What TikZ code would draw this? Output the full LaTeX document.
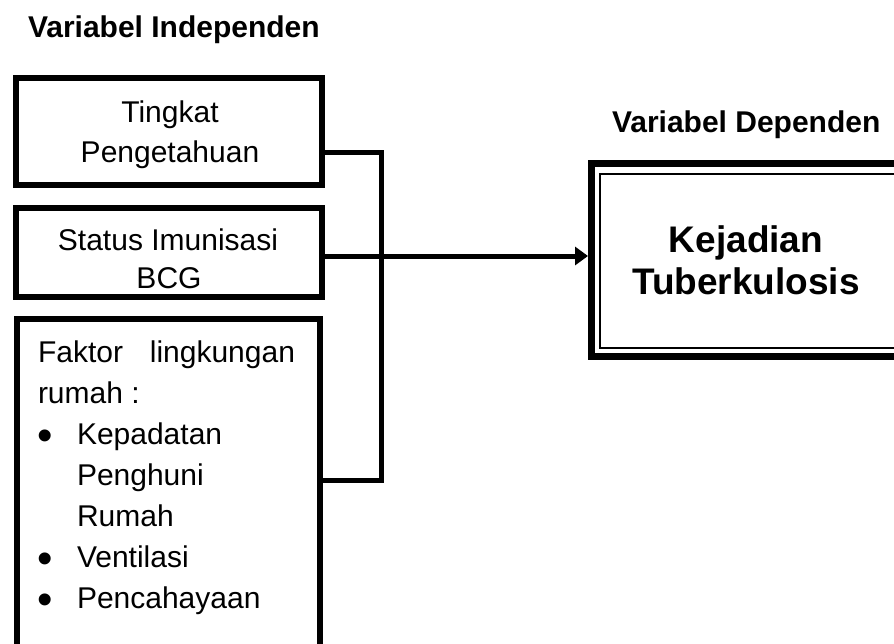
\documentclass[tikz,border=0pt]{standalone}
\usepackage{fontspec}
\setmainfont{Liberation Sans}
\usetikzlibrary{arrows.meta}
\begin{document}
\begin{tikzpicture}[x=1pt,y=-1pt,
  boxstyle/.style={draw, rectangle, line width=6pt, inner sep=0pt, outer sep=0pt},
  txt/.style={font=\fontsize{30}{40}\selectfont, inner sep=0pt, outer sep=0pt, anchor=base},
  bul/.style={font=\fontsize{44}{44}\selectfont, inner sep=0pt, outer sep=0pt},
  ttl/.style={font=\fontsize{30}{36}\selectfont\bfseries, inner sep=0pt, outer sep=0pt, anchor=base west},
  big/.style={font=\fontsize{37}{44}\selectfont\bfseries, inner sep=0pt, outer sep=0pt, anchor=base},
  conn/.style={line width=5pt}
]
\useasboundingbox (0,0) rectangle (894,643);
\clip (0,0) rectangle (894,643);

% titles
\node[ttl] (ti) at (28,37) {Variabel Independen};
\node[ttl] (td) at (612,132) {Variabel Dependen};

% boxes
\node[boxstyle, minimum width=306pt, minimum height=107pt] (b1) at (169,131.5) {};
\node[boxstyle, minimum width=306pt, minimum height=89pt] (b2) at (169,252.5) {};
\node[boxstyle, minimum width=303pt, minimum height=351.5pt] (b3) at (168,494.25) {};
\node[draw, rectangle, line width=7pt, minimum width=330pt, minimum height=193pt, inner sep=0pt, outer sep=0pt] (dep) at (756.5,260) {};
\draw[line width=2pt] ([shift={(8,10)}]dep.north west) rectangle ([shift={(-8,-8.5)}]dep.south east);

% box texts
\node[txt] (l1a) at (170,122) {Tingkat};
\node[txt] (l1b) at (170,162) {Pengetahuan};
\node[txt] (l2a) at (168,250) {Status Imunisasi};
\node[txt] (l2b) at (169,288) {BCG};

\node[txt, anchor=base west] (l3a) at (38,362) {\makebox[257pt][s]{Faktor lingkungan}};
\node[txt, anchor=base west] (l3b) at (38,403) {rumah :};
\node[bul] (bu1) at (45,440) {\textbullet};
\node[txt, anchor=base west] (l3c) at (77,444) {Kepadatan};
\node[txt, anchor=base west] (l3d) at (77,485) {Penghuni};
\node[txt, anchor=base west] (l3e) at (77,526) {Rumah};
\node[bul] (bu2) at (45,563) {\textbullet};
\node[txt, anchor=base west] (l3f) at (77,567) {Ventilasi};
\node[bul] (bu3) at (45,604) {\textbullet};
\node[txt, anchor=base west] (l3g) at (77,608) {Pencahayaan};

\node[big] (k1) at (746,252) {Kejadian};
\node[big] (k2) at (746,294) {Tuberkulosis};

% connectors
\coordinate (j1) at (381,152);
\coordinate (j3) at (381,480);
\coordinate (ay) at (0,256);
\draw[conn] (b1.east |- j1) -- (j1) -- (j3) -- (b3.east |- j3);
\draw[conn, -{Triangle[length=13pt,width=18pt]}, shorten >=3.5pt] (b2.east |- ay) -- (dep.west |- ay);
\end{tikzpicture}
\end{document}
